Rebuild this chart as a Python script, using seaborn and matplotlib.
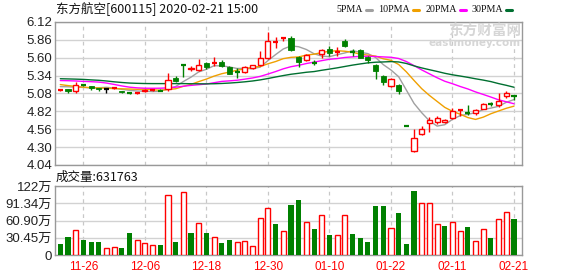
import numpy as np
import pandas as pd
import matplotlib
matplotlib.use("Agg")
import matplotlib.pyplot as plt
import seaborn as sns
from matplotlib.lines import Line2D

# ---------------- data ----------------
dates = ["11-21", "11-22", "11-25", "11-26", "11-27", "11-28", "11-29",
         "12-02", "12-03", "12-04", "12-05", "12-06", "12-09", "12-10",
         "12-11", "12-12", "12-13", "12-16", "12-17", "12-18", "12-19",
         "12-20", "12-23", "12-24", "12-25", "12-26", "12-27", "12-30",
         "12-31", "01-02", "01-03", "01-06", "01-07", "01-08", "01-09",
         "01-10", "01-13", "01-14", "01-15", "01-16", "01-17", "01-20",
         "01-21", "01-22", "01-23", "02-03", "02-04", "02-05", "02-06",
         "02-07", "02-10", "02-11", "02-12", "02-13", "02-14", "02-17",
         "02-18", "02-19", "02-20", "02-21"]

opens = [5.12, 5.14, 5.12, 5.21, 5.19, 5.16, 5.14, 5.15, 5.12, 5.10,
         5.08, 5.11, 5.12, 5.13, 5.15, 5.31, 5.50, 5.43, 5.42, 5.53,
         5.51, 5.54, 5.47, 5.40, 5.39, 5.45, 5.49, 5.60, 5.82, 5.87,
         5.89, 5.61, 5.57, 5.53, 5.66, 5.72, 5.67, 5.84, 5.69, 5.71,
         5.61, 5.50, 5.33, 5.19, 5.20, 4.60, 4.24, 4.49, 4.65, 4.67,
         4.66, 4.72, 4.83, 4.81, 4.79, 4.86, 4.94, 4.91, 5.04, 5.05]
highs = [5.14, 5.15, 5.25, 5.22, 5.19, 5.16, 5.16, 5.17, 5.12, 5.10,
         5.10, 5.14, 5.14, 5.14, 5.38, 5.33, 5.51, 5.48, 5.58, 5.54,
         5.61, 5.56, 5.48, 5.45, 5.48, 5.50, 5.70, 5.97, 5.90, 5.90,
         5.92, 5.62, 5.66, 5.57, 5.73, 5.77, 5.76, 5.87, 5.72, 5.72,
         5.62, 5.51, 5.35, 5.31, 5.22, 4.60, 4.57, 4.60, 4.74, 4.75,
         4.71, 4.87, 4.85, 4.91, 4.85, 4.94, 4.96, 5.09, 5.11, 5.05]
lows = [5.11, 5.09, 5.09, 5.19, 5.13, 5.11, 5.09, 5.14, 5.08, 5.07,
        5.07, 5.10, 5.11, 5.11, 5.12, 5.25, 5.32, 5.41, 5.40, 5.44,
        5.48, 5.47, 5.36, 5.30, 5.38, 5.44, 5.48, 5.58, 5.74, 5.85,
        5.70, 5.46, 5.55, 5.49, 5.60, 5.63, 5.62, 5.76, 5.62, 5.59,
        5.53, 5.29, 5.21, 5.17, 5.07, 4.60, 4.23, 4.48, 4.52, 4.63,
        4.65, 4.71, 4.75, 4.77, 4.77, 4.85, 4.90, 4.89, 5.01, 4.98]
closes = [5.13, 5.11, 5.21, 5.20, 5.16, 5.14, 5.14, 5.16, 5.10, 5.09,
          5.09, 5.13, 5.13, 5.12, 5.27, 5.26, 5.49, 5.45, 5.50, 5.46,
          5.52, 5.48, 5.37, 5.39, 5.47, 5.49, 5.60, 5.84, 5.83, 5.88,
          5.71, 5.54, 5.64, 5.52, 5.71, 5.67, 5.68, 5.77, 5.68, 5.60,
          5.57, 5.40, 5.25, 5.29, 5.11, 4.60, 4.43, 4.57, 4.70, 4.73,
          4.70, 4.82, 4.84, 4.80, 4.84, 4.93, 4.93, 4.97, 5.09, 5.04]

ma5 = [5.180, 5.178, 5.172, 5.168, 5.162, 5.164, 5.170, 5.160, 5.140, 5.126,
       5.116, 5.114, 5.108, 5.112, 5.148, 5.182, 5.254, 5.318, 5.394, 5.432,
       5.484, 5.482, 5.466, 5.444, 5.446, 5.440, 5.464, 5.558, 5.646, 5.728,
       5.772, 5.760, 5.720, 5.658, 5.624, 5.616, 5.644, 5.670, 5.702, 5.680,
       5.660, 5.604, 5.500, 5.422, 5.324, 5.130, 4.936, 4.800, 4.682, 4.606,
       4.626, 4.704, 4.758, 4.778, 4.800, 4.846, 4.868, 4.894, 4.952, 4.992]
ma10 = [5.210, 5.195, 5.183, 5.172, 5.165, 5.160, 5.156, 5.152, 5.148, 5.145,
        5.141, 5.143, 5.135, 5.127, 5.138, 5.149, 5.184, 5.213, 5.253, 5.290,
        5.333, 5.368, 5.392, 5.419, 5.439, 5.462, 5.473, 5.512, 5.545, 5.587,
        5.606, 5.612, 5.639, 5.652, 5.676, 5.694, 5.702, 5.695, 5.680, 5.652,
        5.638, 5.624, 5.585, 5.562, 5.502, 5.395, 5.270, 5.150, 5.052, 4.965,
        4.878, 4.820, 4.779, 4.730, 4.703, 4.736, 4.786, 4.826, 4.865, 4.896]
ma20 = [5.268, 5.266, 5.262, 5.256, 5.252, 5.246, 5.232, 5.212, 5.190, 5.172,
        5.162, 5.157, 5.156, 5.157, 5.162, 5.172, 5.186, 5.198, 5.208, 5.218,
        5.237, 5.256, 5.264, 5.273, 5.289, 5.306, 5.329, 5.363, 5.399, 5.439,
        5.470, 5.490, 5.516, 5.536, 5.558, 5.578, 5.588, 5.604, 5.613, 5.620,
        5.622, 5.618, 5.612, 5.607, 5.589, 5.545, 5.486, 5.423, 5.366, 5.309,
        5.258, 5.222, 5.182, 5.146, 5.103, 5.066, 5.028, 4.988, 4.959, 4.931]
ma30 = [5.295, 5.292, 5.289, 5.285, 5.278, 5.272, 5.262, 5.250, 5.240, 5.232,
        5.228, 5.225, 5.224, 5.224, 5.224, 5.224, 5.224, 5.222, 5.221, 5.220,
        5.222, 5.226, 5.232, 5.240, 5.250, 5.262, 5.278, 5.298, 5.320, 5.341,
        5.360, 5.374, 5.389, 5.399, 5.418, 5.435, 5.453, 5.473, 5.493, 5.510,
        5.526, 5.535, 5.539, 5.544, 5.539, 5.517, 5.482, 5.452, 5.426, 5.401,
        5.374, 5.352, 5.334, 5.315, 5.294, 5.275, 5.253, 5.224, 5.199, 5.171]

volume_wan = [19.9, 32.3, 44.0, 27.0, 23.5, 23.5, 12.3, 14.1, 12.9, 39.3,
              26.4, 21.1, 17.6, 18.2, 105.6, 23.5, 110.9, 39.3, 56.3, 39.3,
              31.7, 21.7, 27.0, 23.5, 24.6, 15.8, 65.1, 82.7, 55.1, 42.2,
              88.6, 97.4, 58.1, 46.3, 70.4, 35.8, 35.2, 70.4, 37.5, 30.5,
              22.3, 86.8, 86.8, 47.5, 74.5, 19.9, 113.2, 91.5, 91.5, 55.1,
              51.6, 58.1, 42.2, 49.9, 24.6, 45.7, 30.5, 63.3, 75.7, 63.18]
volume_dir = "ggrgggrrggrrrgrgrgrgrggrrrrrgrg" + "grgrgrrgggggrgggrrrgrrgrrgrrg"

price_ticks = [4.04, 4.30, 4.56, 4.82, 5.08, 5.34, 5.60, 5.86, 6.12]
vol_ticks = [0, 30.45, 60.90, 91.34, 122]
vol_tick_labels = ["0", "30.45万", "60.90万", "91.34万", "122万"]
date_ticks = ["11-26", "12-06", "12-18", "12-30", "01-10", "01-22", "02-11", "02-21"]
title = "东方航空[600115] 2020-02-21 15:00"
vol_title = "成交量:631763"
ma_names = ["5PMA", "10PMA", "20PMA", "30PMA"]

# ---------------- style ----------------
sns.set_theme(style="white")
plt.rcParams["font.family"] = ["Liberation Sans", "Noto Sans CJK SC", "DejaVu Sans"]
RED = "#ff0000"
GREEN = "#008000"
GRID = "#d2d2d2"
SPINE = "#999999"
ma_colors = {"5PMA": "#a0a0a0", "10PMA": "#f0a000", "20PMA": "#ff00ff", "30PMA": "#006f30"}

W, H = 578, 276
fig = plt.figure(figsize=(W / 100, H / 100), dpi=100)
fig.patch.set_facecolor("white")
L, R = 55, 522
ax = fig.add_axes([L / W, 1 - 165 / H, (R - L) / W, (165 - 22) / H])
axv = fig.add_axes([L / W, 1 - 255 / H, (R - L) / W, (255 - 186) / H])

x = np.arange(len(dates))
o = np.array(opens); h = np.array(highs); lo = np.array(lows); c = np.array(closes)
prev = np.concatenate([[c[0]], c[:-1]])

cols = []
for i in range(len(x)):
    if c[i] > o[i]:
        cols.append(RED)
    elif c[i] < o[i]:
        cols.append(GREEN)
    else:
        cols.append(RED if c[i] > prev[i] else (GREEN if c[i] < prev[i] else "black"))
cols = np.array(cols)

tick_pos = [dates.index(d) for d in date_ticks]
xlim = (-0.69, len(dates) - 1 + 1.04)

for a in (ax, axv):
    a.set_facecolor("white")
    for sp in a.spines.values():
        sp.set_color(SPINE)
        sp.set_linewidth(1.0)
    for p in tick_pos:
        a.axvline(p, color="#c8c8c8", lw=0.9, ls=(0, (3, 3)), zorder=0)
    a.set_xlim(*xlim)
    a.tick_params(length=0)

# price grid
for t in price_ticks:
    ax.axhline(t, color=GRID, lw=1.0, zorder=0)
ax.set_ylim(4.04, 6.12)
ax.set_yticks(price_ticks)
ax.set_yticklabels([f"{t:.2f}" for t in price_ticks], fontsize=9.5, color="#222222")
ax.tick_params(axis="y", pad=2)
ax.set_xticks([])

# moving averages via seaborn
ma_df = pd.DataFrame({"idx": np.tile(x, 4),
                      "value": np.concatenate([ma5, ma10, ma20, ma30]),
                      "ma": np.repeat(ma_names, len(x))})
sns.lineplot(data=ma_df, x="idx", y="value", hue="ma", palette=ma_colors,
             hue_order=ma_names, linewidth=1.0, legend=False, ax=ax, zorder=2)
ax.set_xlabel(""); ax.set_ylabel("")

# candles
bw = 0.66
ax.vlines(x, lo, h, colors=cols, lw=1.0, zorder=3)
diff = c - o
hollow = diff >= 0.015
solid = diff <= -0.015
doji = ~(hollow | solid)
ax.bar(x[hollow], diff[hollow], bottom=o[hollow], width=bw, facecolor="white",
       edgecolor=RED, lw=1.0, zorder=4)
ax.bar(x[solid], -diff[solid], bottom=c[solid], width=bw, color=GREEN,
       edgecolor=GREEN, lw=0.6, zorder=4)
ax.hlines(c[doji], x[doji] - bw / 2, x[doji] + bw / 2, colors=cols[doji], lw=1.6, zorder=4)

# volume
vol = np.array(volume_wan)
vdir = np.array(list(volume_dir))
for t in vol_ticks:
    axv.axhline(t, color=GRID, lw=1.0, zorder=0)
up = vdir == "r"
axv.bar(x[up], vol[up], width=bw, facecolor="white", edgecolor=RED, lw=1.0, zorder=3)
axv.bar(x[~up], vol[~up], width=bw, color=GREEN, lw=0, zorder=3)
axv.set_ylim(0, 122)
axv.set_yticks(vol_ticks)
axv.set_yticklabels(vol_tick_labels, fontsize=9.5, color="#222222")
axv.tick_params(axis="y", pad=2)
axv.set_xticks(tick_pos)
axv.set_xticklabels(date_ticks, fontsize=8.5, color=RED)
axv.tick_params(axis="x", pad=4)

# texts
fig.text(56 / W, 1 - 9 / H, title, fontsize=9, va="center", ha="left",
         family=["Noto Sans CJK SC", "DejaVu Sans"], color="#111111")
fig.text(56 / W, 1 - 177 / H, vol_title, fontsize=9, va="center", ha="left",
         family=["Noto Sans CJK SC", "DejaVu Sans"], color="#111111")

legend_right = [363, 410, 457, 503]
for name, xr in zip(ma_names, legend_right):
    fig.text(xr / W, 1 - 9.5 / H, name, fontsize=7.2, va="center", ha="right",
             family=["Liberation Serif"], color="#111111")
    fig.add_artist(Line2D([(xr + 3) / W, (xr + 9) / W], [1 - 9.5 / H, 1 - 9.5 / H],
                          color=ma_colors[name], lw=2.2, transform=fig.transFigure))

# watermark
fig.text(521 / W, 1 - 31 / H, "东方财富网", fontsize=10.5, ha="right", va="center",
         color="#d6d6d6", weight="bold", family=["Noto Sans CJK SC"])
fig.text(521 / W, 1 - 43 / H, "eastmoney.com", fontsize=7.5, ha="right", va="center",
         color="#d6d6d6", weight="bold", family=["DejaVu Sans"])

fig.savefig("out.png", dpi=100, facecolor="white")
